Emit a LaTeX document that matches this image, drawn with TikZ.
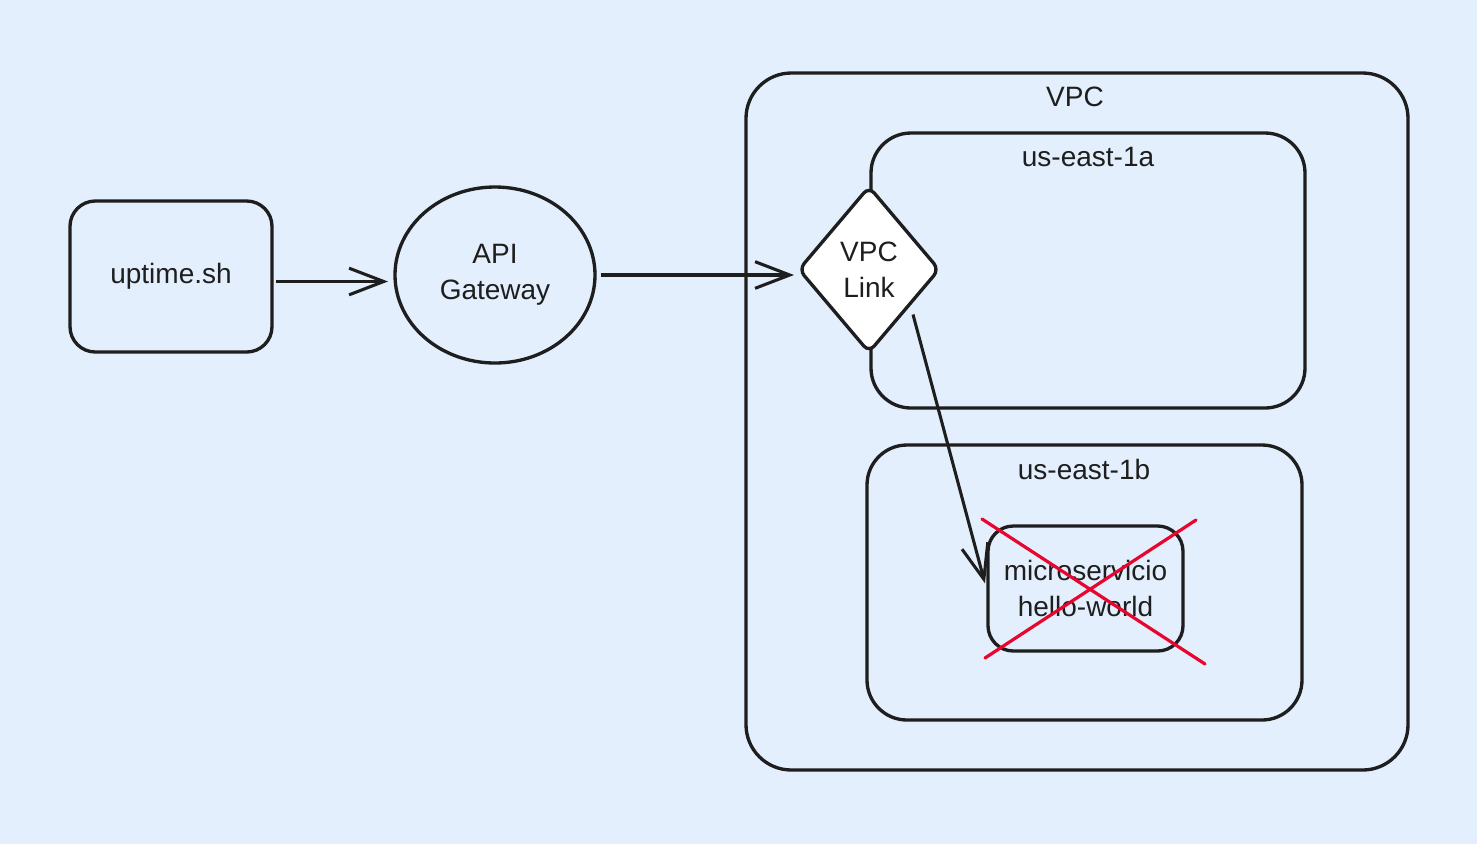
\documentclass[tikz,border=0pt]{standalone}
\usepackage{fontspec}
\setmainfont{Liberation Sans}
\usetikzlibrary{shapes.geometric,arrows.meta,calc}
\definecolor{bg}{HTML}{E3EFFD}
\definecolor{ink}{HTML}{1E1E1E}
\definecolor{cross}{HTML}{E8062E}
\begin{document}
\begin{tikzpicture}[x=0.75pt,y=-0.75pt,
  box/.style={draw=ink, line width=2.5pt, rounded corners=#1, inner sep=0pt},
  txt/.style={text=ink, font=\fontsize{21}{27}\selectfont, align=center, inner sep=0pt},
  arr/.style={draw=ink, line width=2.3pt, -{Straight Barb[length=26pt,width=20pt,line width=2.3pt]}},
  crossline/.style={draw=cross, line width=2.4pt, line cap=round}
]
\fill[bg] (0,0) rectangle (1477,844);
\useasboundingbox (0,0) rectangle (1477,844);

% containers
\node[box=34pt, minimum width=496.5pt, minimum height=522.75pt] (vpc) at (1077,421.5) {};
\node[txt] (vpclbl) at (1075,97) {VPC};
\node[box=30pt, minimum width=325.5pt, minimum height=206.25pt] (east1a) at (1088,270.5) {};
\node[txt] (east1albl) at (1088,157) {us-east-1a};
\node[box=30pt, minimum width=326.25pt, minimum height=206.25pt] (east1b) at (1084.5,582.5) {};
\node[txt] (east1blbl) at (1084,469) {us-east-1b};

% nodes
\node[box=19pt, minimum width=151.5pt, minimum height=113.25pt, txt] (uptime) at (171,276.5) {uptime.sh};
\node[draw=ink, line width=2.5pt, ellipse, minimum width=150pt, minimum height=132pt, txt] (api) at (495,275) {API\\Gateway};
\node[draw=ink, fill=white, line width=2.5pt, diamond, rounded corners=6pt, minimum width=106pt, minimum height=125pt, txt] (link) at (869,269.5) {VPC\\Link};
\node[box=19pt, minimum width=146.25pt, minimum height=93.75pt, txt] (micro) at (1085.5,588.5) {microservicio\\hello-world};

% connectors
\coordinate (upout) at ($(uptime.east)+(0,5)$);
\draw[arr, shorten <=2pt, shorten >=4pt] (upout) -- (api.west |- upout);
\draw[arr, shorten <=3pt, shorten >=2pt] (api.east) -- (link.west |- api.east);
\coordinate (linkout) at ($(link.center)+(44,45)$);
\draw[arr, shorten >=4pt] (linkout) -- (micro.west);

% red cross
\coordinate (xa1) at (982,519);
\coordinate (xa2) at (1205,664);
\coordinate (xb1) at (985,658);
\coordinate (xb2) at (1196,520);
\draw[crossline] (xa1) -- (xa2);
\draw[crossline] (xb1) -- (xb2);
\end{tikzpicture}
\end{document}
